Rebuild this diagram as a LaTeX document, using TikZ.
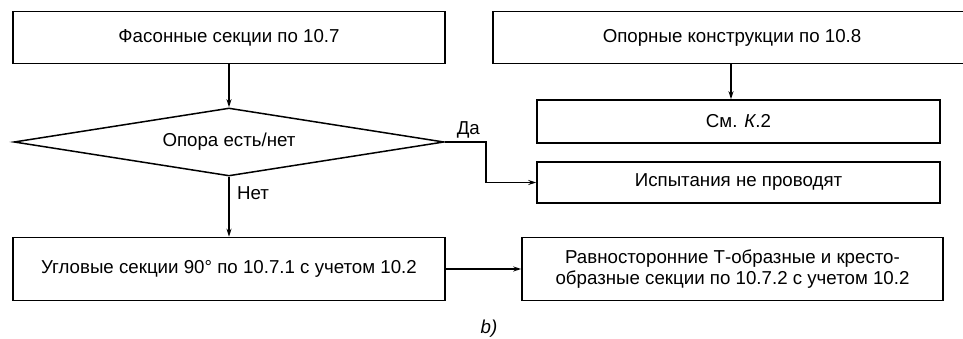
\documentclass[tikz,border=0pt]{standalone}
\usepackage{fontspec}
\setmainfont{Liberation Sans}
\usepackage{tikz}
\usetikzlibrary{arrows.meta,positioning,shapes.geometric}

\begin{document}
\begin{tikzpicture}[x=1pt, y=1pt, >={Stealth[length=8pt,width=5pt]},
  box/.style={draw, line width=1.5pt, inner sep=2pt, align=center, font=\fontsize{18.7}{21}\selectfont},
  ask/.style={draw, line width=1.5pt, shape=diamond, inner sep=0pt, aspect=6, minimum width=430pt, minimum height=68pt, font=\fontsize{18.7}{21}\selectfont},
  ann/.style={font=\fontsize{18.7}{21}\selectfont},
  line width=1.5pt]
\useasboundingbox (0,0) rectangle (963,339);
% left column
\node[box, minimum width=432pt, minimum height=52pt] (fason) at (229,301.5) {Фасонные секции по 10.7};
\node[ask] (opora) at (229,197) {Опора есть/нет};
\node[box, minimum width=432pt, minimum height=63pt] (uglov) at (229,70) {Угловые секции 90° по 10.7.1 с учетом 10.2};
% right column
\node[box, minimum width=478pt, minimum height=52pt] (opkon) at (732,301.5) {Опорные конструкции по 10.8};
\node[box, minimum width=403pt, minimum height=43pt] (smk) at (738.5,217.5) {См. \textit{К}.2};
\node[box, minimum width=403pt, minimum height=41pt] (ispyt) at (738.5,156.5) {Испытания не проводят};
\node[box, minimum width=421pt, minimum height=63pt] (ravno) at (732.5,70) {Равносторонние Т-образные и кресто-\\образные секции по 10.7.2 с учетом 10.2};
\node[ann, font=\fontsize{18.7}{21}\selectfont\itshape] (bcap) at (489,10) {b)};
% connectors
\draw[->] (fason) -- (opora);
\draw[->] ([xshift=-7.5pt]smk.north |- opkon.south) -- ([xshift=-7.5pt]smk.north);
\draw[->] (opora.east) -- ++(41pt,0) coordinate (da) |- (ispyt.west);
\node[ann, above right=0pt and 8pt of opora.east] (dalbl) {Да};
\draw[->] (opora.south) -- (uglov.north) node[ann, pos=.28, right=4pt] (netlbl) {Нет};
\draw[->] (uglov) -- (ravno);
\end{tikzpicture}
\end{document}
